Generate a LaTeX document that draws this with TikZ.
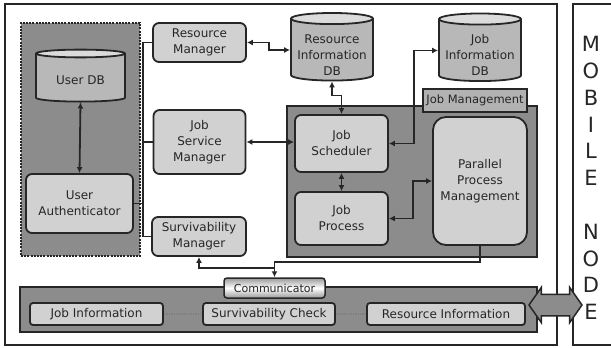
\documentclass[tikz,border=0pt]{standalone}
\usepackage{fontspec}
\setmainfont{DejaVu Sans}
\usetikzlibrary{positioning, shapes.geometric, shapes.arrows, arrows.meta}

\definecolor{panelgray}{gray}{0.55}
\definecolor{boxgray}{gray}{0.82}
\definecolor{dbbody}{gray}{0.72}
\definecolor{dbtop}{gray}{0.86}
\definecolor{edge}{gray}{0.15}

\begin{document}
\begin{tikzpicture}[x=1pt, y=-1pt, >={Latex[length=6pt,width=6pt]},
  every node/.style={font=\fontsize{12}{16}\selectfont, text=edge},
  dim/.style 2 args={minimum width=#1, minimum height=#2},
  box/.style={draw=edge, line width=1.8pt, rounded corners=6pt, fill=boxgray,
    align=center, inner sep=0pt},
  db/.style={cylinder, shape border rotate=90, aspect=0.16, draw=edge,
    line width=1.8pt, cylinder uses custom fill, cylinder body fill=dbbody,
    cylinder end fill=dbtop, align=center, inner sep=0pt},
  panel/.style={draw=edge, line width=1.5pt, fill=panelgray, inner sep=0pt},
  tab/.style={draw=edge, line width=1.5pt, inner sep=0pt},
  link/.style={draw=edge, line width=1.8pt}]

  \useasboundingbox (0,0) rectangle (611,348);

  % frames
  \node[draw=edge, line width=1.5pt, inner sep=0pt, dim={552}{341}]  (frame)
  at (281,174.5) {};
  \node[draw=edge, line width=1.5pt, inner sep=0pt, dim={50}{341}, anchor=west]  (mobile)
  at (572,174.5) {};
  \node[font=\fontsize{21}{26.8}\selectfont, align=center]  (mobiletext)
  at (591,178) {M\\O\\B\\I\\L\\E\\ \\N\\O\\D\\E};

  % user side
  \node[panel, line width=2.2pt, dash pattern=on 2pt off 1.2pt, dim={119}{233}]  (userzone)
  at (80.5,139.5) {};
  \node[db, dim={89}{52}]  (userdb)
  at (80.5,78) {\rule{0pt}{14pt}User DB};
  \node[box, dim={107}{59}]  (auth)
  at (79.5,203.5) {User\\Authenticator};

  \node[box, dim={93}{39}]  (resmgr)
  at (199.5,42.5) {Resource\\Manager};
  \node[box, dim={92}{64}]  (jobsvc)
  at (199.5,142) {Job\\Service\\Manager};
  \node[box, dim={94}{39}]  (survmgr)
  at (199,236.5) {Survivability\\Manager};

  \node[db, dim={82}{64}]  (resdb)
  at (332,50) {\rule{0pt}{18pt}Resource\\Information\\DB};
  \node[db, dim={82}{65}]  (jobdb)
  at (480,50.5) {\rule{0pt}{18pt}Job\\Information\\DB};

  % job management
  \node[panel, dim={250}{151}]  (jobmgmt)
  at (412,181.5) {};
  \node[tab, fill=gray!60, dim={104}{23}, font=\fontsize{11.5}{14}\selectfont]  (jobtab)
  at (475,100.5) {Job Management};
  \node[box, dim={93}{57}]  (sched)
  at (341.5,143.5) {Job\\Scheduler};
  \node[box, dim={93}{53}]  (proc)
  at (341.5,218.5) {Job\\Process};
  \node[box, rounded corners=13pt, dim={94}{128}]  (parallel)
  at (480,181) {Parallel\\Process\\Management};

  % communicator
  \node[panel, dim={517}{45}]  (bar)
  at (278.5,309.5) {};
  \node[tab, rounded corners=3pt, top color=gray!80, bottom color=gray!80,
    middle color=white, dim={101}{20}, font=\fontsize{11}{14}\selectfont]  (comm)
  at (274.5,288) {Communicator};
  \node[box, rounded corners=3pt, dim={133}{22}]  (jobinfo)
  at (96.5,314) {Job Information};
  \node[box, rounded corners=3pt, dim={132}{22}]  (survcheck)
  at (269,314) {Survivability Check};
  \node[box, rounded corners=3pt, dim={158}{22}]  (resinfo)
  at (446,314) {Resource Information};
  \node[double arrow, draw=edge, line width=1.5pt, fill=panelgray, inner sep=0pt,
    inner ysep=10pt, minimum height=53, minimum width=34,
    double arrow head extend=7pt, double arrow tip angle=110]  (wireless)
  at (555.5,305) {};

  \coordinate (bus) at (143,42.5);
  \draw[link] (resmgr.west) -- (bus) |- (survmgr.west);
  \draw[link] (jobsvc.west) -- (jobsvc.west -| bus);
  \draw[link] (auth.east)   -- (auth.east -| bus);
  \draw[link, <->] (userdb.south) -- (auth.north);
  \draw[link, <->] (resmgr.east)  -- ++(22,0) |- (resdb.west);
  \draw[link, <->] (resdb.south)  -- ++(0,14) -| (sched.north);
  \draw[link, <->] (sched.east)   -- ++(25,0) |- (jobdb.west);
  \draw[link, <->] (sched.south)  -- (proc.north);
  \draw[link, <->] (proc.east)    -- ++(24,0) |- (parallel.west);
  \draw[link, <->] (jobsvc.east)  -- (jobsvc.east -| sched.west);
  \draw[link, ->]  (parallel.south) -- ++(0,16) -| (comm.north);
  \path (comm.north) ++(0,-9) coordinate (split);
  \draw[link, ->]  (split) -| (survmgr.south);
  \draw[gray, densely dotted, line width=1.4pt] (jobinfo) -- (survcheck)
  (survcheck) -- (resinfo);
\end{tikzpicture}
\end{document}
